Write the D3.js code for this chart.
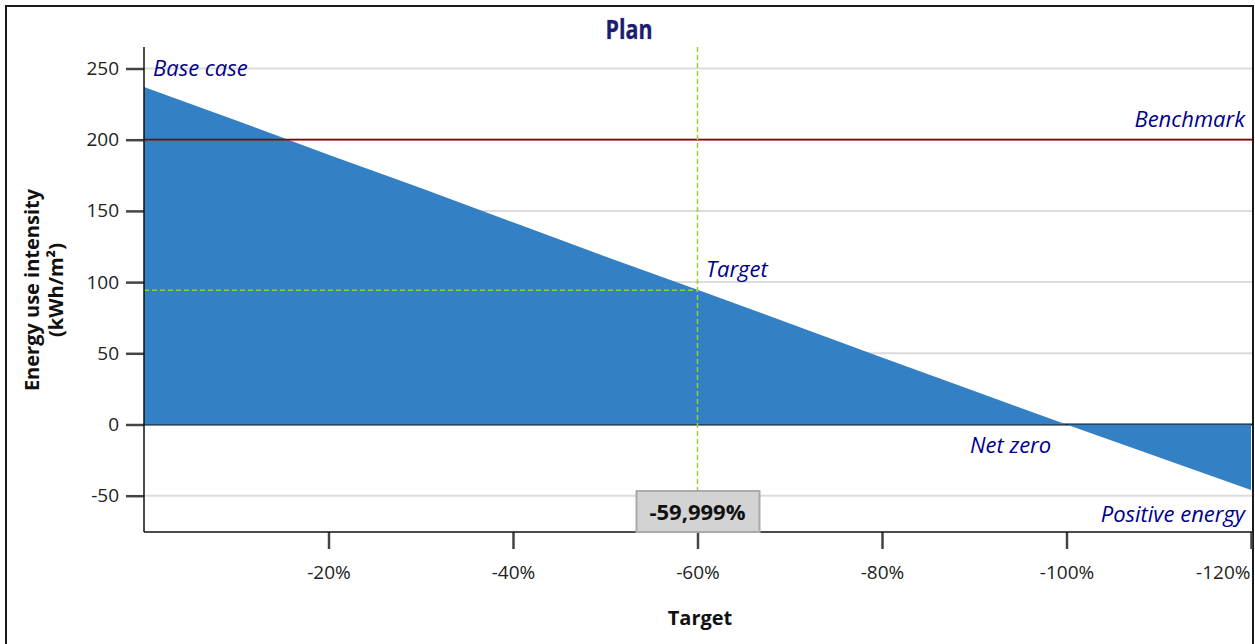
<!DOCTYPE html>
<html>
<head>
<meta charset="utf-8">
<script src="https://cdn.jsdelivr.net/npm/d3@7"></script>
<style>
  html, body { margin: 0; padding: 0; background: #fff; }
  svg { display: block; }
  text { font-family: "Open Sans", "Noto Sans", sans-serif; }
</style>
</head>
<body>
<svg id="chart" width="1255" height="644"></svg>
<script>
// ---- data ----
const targetPct = [0, -10, -20, -30, -40, -50, -60, -70, -80, -90, -100, -110, -120];
const euiValues = [237, 213.5, 189.5, 166, 142, 118, 94.6, 71, 47, 23.5, 0, -23, -46];
const yTicks = [-50, 0, 50, 100, 150, 200, 250];
const xTicks = [-20, -40, -60, -80, -100, -120];
const benchmarkValue = 200;
const targetX = -59.999;
const targetY = 94.3;
const chartTitle = "Plan";
const xTitle = "Target";
const yTitle1 = "Energy use intensity";
const yTitle2 = "(kWh/m²)";

(function () {
// ---- layout ----
const svg = d3.select("#chart");
const pLeft = 144, pRight = 1251, pTop = 47, pBottom = 532;

const x = d3.scaleLinear().domain([0, -120]).range([pLeft, pRight]);
const y = d3.scaleLinear().domain([0, 250]).range([424.5, 68.5]);

// outer border
svg.append("rect").attr("x", 6).attr("y", 6).attr("width", 1247).attr("height", 650)
  .attr("fill", "none").attr("stroke", "#1a1a1a").attr("stroke-width", 2);

// title
svg.append("text").attr("x", 629).attr("y", 39).attr("text-anchor", "middle")
  .attr("font-family", "Liberation Sans, Arial, sans-serif")
  .attr("font-size", 26).attr("font-weight", "bold").attr("fill", "#1c1c70")
  .attr("stroke", "#1c1c70").attr("stroke-width", 0.7).attr("stroke-opacity", 0.45)
  .attr("textLength", 47).attr("lengthAdjust", "spacingAndGlyphs")
  .text(chartTitle);

// gridlines
svg.append("g").selectAll("line").data(yTicks.filter(d => d !== 0)).join("line")
  .attr("x1", pLeft).attr("x2", 1252)
  .attr("y1", d => y(d)).attr("y2", d => y(d))
  .attr("stroke", "#dcdcdc").attr("stroke-width", 2);

// zero line (under the area)
svg.append("line").attr("x1", pLeft).attr("x2", 1252).attr("y1", y(0)).attr("y2", y(0))
  .attr("stroke", "#111").attr("stroke-width", 2);

// area
const pts = targetPct.map((t, i) => ({ t, v: euiValues[i] }));
const area = d3.area().x(d => x(d.t)).y0(y(0)).y1(d => y(d.v));
svg.append("path").datum(pts).attr("d", area).attr("fill", "#3380c4");

// benchmark
svg.append("line").attr("x1", pLeft).attr("x2", 1252)
  .attr("y1", y(benchmarkValue)).attr("y2", y(benchmarkValue))
  .attr("stroke", "#8b0000").attr("stroke-width", 1.8);

// target crosshair
svg.append("line").attr("x1", x(targetX)).attr("x2", x(targetX)).attr("y1", pTop).attr("y2", pBottom)
  .attr("stroke", "#9acd32").attr("stroke-width", 1.5).attr("stroke-dasharray", "5,3");
svg.append("line").attr("x1", pLeft).attr("x2", x(targetX)).attr("y1", y(targetY)).attr("y2", y(targetY))
  .attr("stroke", "#9acd32").attr("stroke-width", 1.5).attr("stroke-dasharray", "5,3");

// y axis
const yAxis = d3.axisLeft(y).tickValues(yTicks).tickSize(18).tickPadding(7).tickFormat(d => String(d));
const gy = svg.append("g").attr("transform", `translate(${pLeft},0)`).call(yAxis);
gy.select(".domain").remove();
gy.selectAll(".tick line").attr("stroke", "#444").attr("stroke-width", 2.5);
gy.selectAll(".tick text").attr("font-size", 19).attr("fill", "#222")
  .attr("font-family", "Open Sans, sans-serif");
svg.append("line").attr("x1", pLeft).attr("x2", pLeft).attr("y1", pTop).attr("y2", pBottom)
  .attr("stroke", "#111").attr("stroke-width", 1.5);

// x axis
const xAxis = d3.axisBottom(x).tickValues(xTicks).tickSize(17).tickPadding(17).tickFormat(d => d + "%");
const gx = svg.append("g").attr("transform", `translate(0,${pBottom})`).call(xAxis);
gx.select(".domain").remove();
gx.selectAll(".tick line").attr("stroke", "#444").attr("stroke-width", 2.5);
gx.selectAll(".tick text").attr("font-size", 19).attr("fill", "#222")
  .attr("font-family", "Open Sans, sans-serif");
gx.selectAll(".tick text").filter(d => d === -120).attr("text-anchor", "end").attr("dx", -1);
svg.append("line").attr("x1", pLeft).attr("x2", 1252).attr("y1", pBottom).attr("y2", pBottom)
  .attr("stroke", "#111").attr("stroke-width", 1.5);

// target value box
const bx = x(targetX);
svg.append("rect").attr("x", bx - 61).attr("y", 491).attr("width", 123).attr("height", 41)
  .attr("fill", "#d3d3d3").attr("stroke", "#aaa").attr("stroke-width", 2);
svg.append("text").attr("x", bx).attr("y", 520).attr("text-anchor", "middle")
  .attr("font-size", 22).attr("font-weight", "bold").attr("fill", "#111")
  .text(targetX.toFixed(3).replace(".", ",") + "%");

// annotations
const ann = [
  { t: "Base case", x: 153, y: 76, a: "start" },
  { t: "Benchmark", x: 1245, y: 127, a: "end" },
  { t: "Target", x: 706, y: 277, a: "start" },
  { t: "Net zero", x: 970, y: 453, a: "start" },
  { t: "Positive energy", x: 1245, y: 522, a: "end" }
];
svg.append("g").selectAll("text").data(ann).join("text")
  .attr("x", d => d.x).attr("y", d => d.y).attr("text-anchor", d => d.a)
  .attr("font-size", 22).attr("font-style", "italic").attr("fill", "#00008b")
  .text(d => d.t);

// axis titles
svg.append("text").attr("x", 700).attr("y", 625).attr("text-anchor", "middle")
  .attr("font-size", 20).attr("font-weight", "bold").attr("fill", "#111").text(xTitle);
const yt = svg.append("text").attr("transform", "translate(39,290) rotate(-90)")
  .attr("text-anchor", "middle").attr("font-size", 20).attr("font-weight", "bold").attr("fill", "#111");
yt.append("tspan").attr("x", 0).attr("dy", 0).text(yTitle1);
yt.append("tspan").attr("x", 0).attr("dy", 24).text(yTitle2);
})();
</script>
</body>
</html>
